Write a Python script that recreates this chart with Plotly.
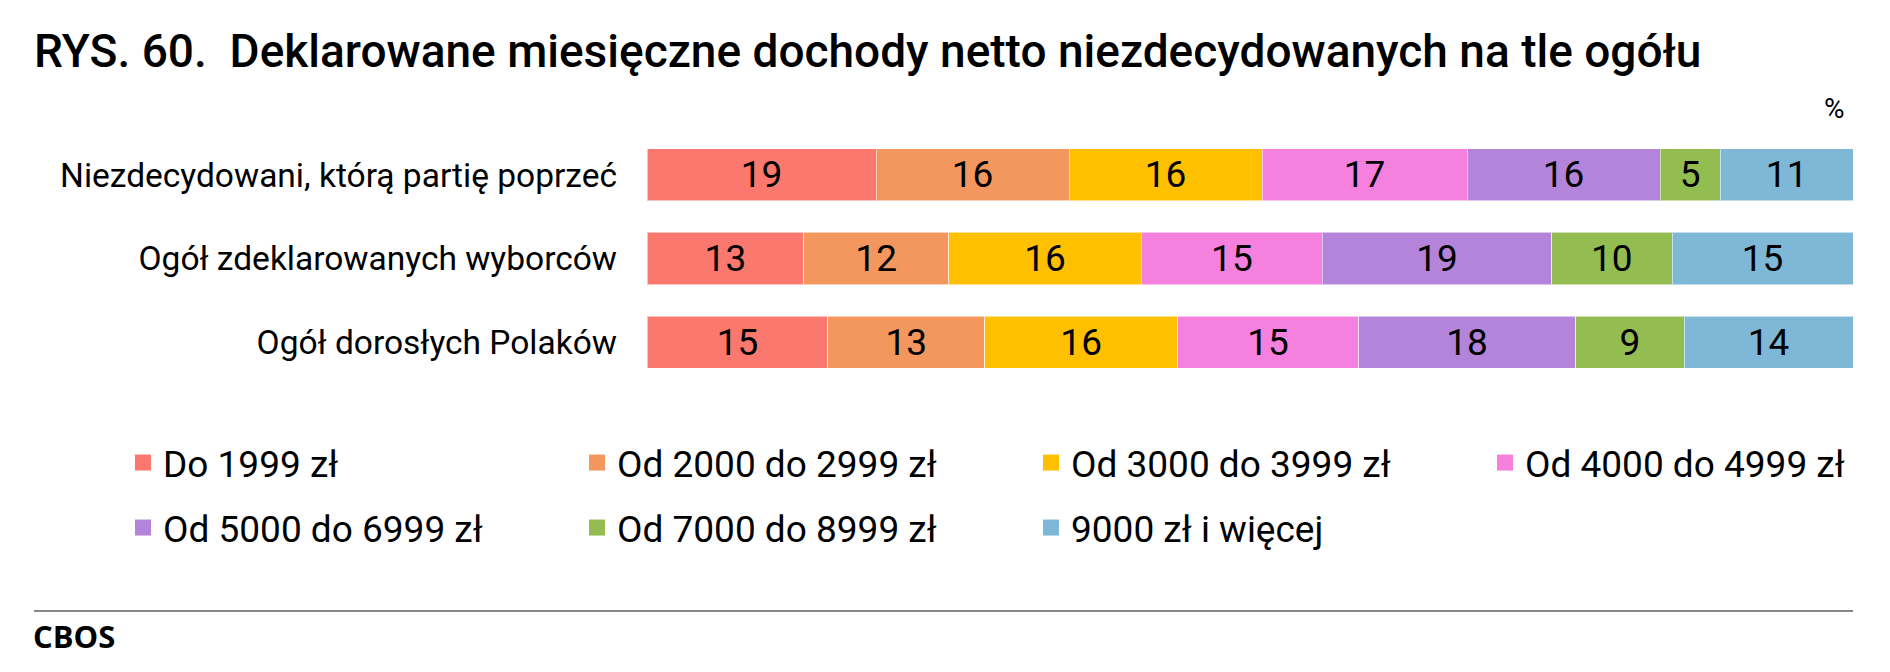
import plotly.graph_objects as go

# ---------------- data ----------------
categories = [
    "Niezdecydowani, którą partię poprzeć",
    "Ogół zdeklarowanych wyborców",
    "Ogół dorosłych Polaków",
]
series_names = [
    "Do 1999 zł",
    "Od 2000 do 2999 zł",
    "Od 3000 do 3999 zł",
    "Od 4000 do 4999 zł",
    "Od 5000 do 6999 zł",
    "Od 7000 do 8999 zł",
    "9000 zł i więcej",
]
do_1999 = [19, 13, 15]
od_2000_do_2999 = [16, 12, 13]
od_3000_do_3999 = [16, 16, 16]
od_4000_do_4999 = [17, 15, 15]
od_5000_do_6999 = [16, 19, 18]
od_7000_do_8999 = [5, 10, 9]
od_9000 = [11, 15, 14]
series_values = [do_1999, od_2000_do_2999, od_3000_do_3999, od_4000_do_4999,
                 od_5000_do_6999, od_7000_do_8999, od_9000]
colors = ["#FA786E", "#F4975F", "#FFC000", "#F580DE", "#B484DA", "#93BD50", "#7FB8D6"]

title_text = "RYS. 60.\u00a0\u00a0Deklarowane miesięczne dochody netto niezdecydowanych na tle ogółu"
unit_text = "%"
source_text = "CBOS"

# ---------------- geometry ----------------
W, H = 1890, 672
ML, MR, MT, MB = 647, 37, 133, 288
PW = W - ML - MR
PH = H - MT - MB


def px_x(px):
    return (px - ML) / PW


def px_y(py):
    return (H - MB - py) / PH


fig = go.Figure()

for name, vals, col in zip(series_names, series_values, colors):
    fig.add_trace(go.Bar(
        y=categories, x=vals, name=name, orientation="h",
        marker=dict(color=col, line=dict(color="rgba(255,255,255,0.55)", width=1)),
        text=vals, textposition="inside", insidetextanchor="middle",
        textangle=0, constraintext="none",
        textfont=dict(family="Roboto", size=37, color="black"),
        showlegend=False, legendgroup=name, hoverinfo="x+name",
    ))

legend_ids = ["legend", "legend", "legend", "legend3", "legend2", "legend2", "legend2"]
for name, col, lid in zip(series_names, colors, legend_ids):
    fig.add_trace(go.Scatter(
        x=[None], y=[None], mode="markers", name=name, legendgroup=name,
        marker=dict(symbol="square", size=20, color=col),
        legend=lid,
    ))

legend_common = dict(
    orientation="h", xanchor="left", yanchor="top",
    font=dict(family="Roboto", size=37, color="black"),
    entrywidth=409, entrywidthmode="pixels",
    bgcolor="rgba(0,0,0,0)", borderwidth=0, tracegroupgap=0,
)

row1_top, row2_top = 432, 497
col_x0 = 123
col_step = 454

fig.update_layout(
    width=W, height=H,
    margin=dict(l=ML, r=MR, t=MT, b=MB, pad=0),
    paper_bgcolor="white", plot_bgcolor="white",
    barmode="stack", bargap=0.376,
    font=dict(family="Roboto", color="black"),
    title=dict(
        text=title_text,
        font=dict(family="Roboto", size=46, weight=500, color="black"),
        x=34 / W, xref="container", xanchor="left",
        y=1 - 35 / H, yref="container", yanchor="top",
    ),
    xaxis=dict(range=[0, 100], visible=False, fixedrange=True),
    yaxis=dict(
        autorange="reversed", showgrid=False, zeroline=False, showline=False,
        ticks="", ticklabelstandoff=29,
        tickfont=dict(family="Roboto", size=33.5, color="black"),
        fixedrange=True,
    ),
    legend=dict(legend_common, x=px_x(col_x0), y=px_y(row1_top)),
    legend3=dict(legend_common, entrywidth=0, x=px_x(col_x0 + 3 * col_step), y=px_y(row1_top)),
    legend2=dict(legend_common, x=px_x(col_x0), y=px_y(row2_top)),
    annotations=[
        dict(text=unit_text, xref="paper", yref="paper",
             x=px_x(1847), y=px_y(108), xanchor="right", yanchor="middle",
             showarrow=False, font=dict(family="Roboto", size=28, color="black")),
        dict(text="<b>" + source_text + "</b>", xref="paper", yref="paper",
             x=px_x(31), y=px_y(636), xanchor="left", yanchor="middle",
             showarrow=False, font=dict(family="Open Sans", size=31, color="black")),
    ],
    shapes=[
        dict(type="line", xref="paper", yref="paper",
             x0=px_x(34), x1=px_x(1853), y0=px_y(611), y1=px_y(611),
             line=dict(color="#878787", width=2)),
    ],
)

fig.write_html(
    "out.html",
    config={"displayModeBar": False},
    post_script="document.body.style.margin='0px';",
)
